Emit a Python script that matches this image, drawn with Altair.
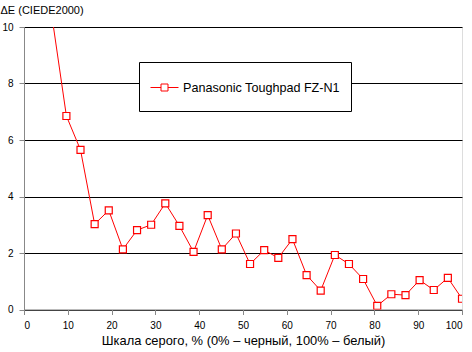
import altair as alt
import pandas as pd

gray_pct = [6.45, 9.68, 12.9, 16.13, 19.35, 22.58, 25.81, 29.03, 32.26, 35.48,
            38.71, 41.94, 45.16, 48.39, 51.61, 54.84, 58.06, 61.29, 64.52, 67.74,
            70.97, 74.19, 77.42, 80.65, 83.87, 87.1, 90.32, 93.55, 96.77, 100.0]
delta_e = [10.3, 6.85, 5.65, 3.02, 3.51, 2.13, 2.81, 3.0, 3.76, 2.96,
           2.04, 3.34, 2.13, 2.69, 1.61, 2.1, 1.83, 2.49, 1.22, 0.67,
           1.93, 1.61, 1.08, 0.13, 0.54, 0.51, 1.04, 0.69, 1.12, 0.38]
series_name = "Panasonic Toughpad FZ-N1"
x_ticks = [0, 10, 20, 30, 40, 50, 60, 70, 80, 90, 100]
y_ticks = [0, 2, 4, 6, 8, 10]

df = pd.DataFrame({"x": gray_pct, "y": delta_e, "s": [series_name] * len(gray_pct)})

FONT = "Liberation Sans"
FS = 12.6

legend_path = ("M-1,0H-0.25M0.25,0H1M-0.25,-0.25H0.25V0.25H-0.25Z"
               "M0,-0.75M0,0.75")

chart = alt.Chart(df).mark_line(
    color="#FF0000", strokeWidth=1, clip=True,
    point=alt.OverlayMarkDef(shape="square", size=49, filled=False, fill="white",
                             fillOpacity=1, stroke="#FF0000", strokeWidth=1.2, clip=True)
).encode(
    x=alt.X("x:Q", scale=alt.Scale(domain=[0, 100], nice=False),
            axis=alt.Axis(values=x_ticks, grid=False, tickSize=5, labelPadding=6,
                          title="Шкала серого, % (0% – черный, 100% – белый)",
                          titlePadding=4, titleFontWeight="normal", titleFontSize=12.9)),
    y=alt.Y("y:Q", scale=alt.Scale(domain=[0, 10], nice=False),
            axis=alt.Axis(values=y_ticks, grid=True, gridColor="black", gridOpacity=1,
                          tickSize=5, labelPadding=6, titleFontWeight="normal",
                          title="ΔE (CIEDE2000)", titleAngle=0, titleAlign="left",
                          titleBaseline="middle", titleX=-24, titleY=-17)),
    color=alt.Color("s:N", scale=alt.Scale(range=["#FF0000"]),
                    legend=alt.Legend(title=None, orient="none", legendX=115, legendY=35,
                                      fillColor="white", strokeColor="black", padding=11,
                                      symbolType=legend_path, symbolSize=784,
                                      symbolStrokeColor="#FF0000", symbolFillColor="white",
                                      symbolStrokeWidth=1, labelOffset=4,
                                      labelFont=FONT, labelFontSize=FS, labelColor="black")),
).properties(
    width=438, height=282.5,
    autosize=alt.AutoSizeParams(type="none"),
    padding={"left": 24, "top": 27, "right": 10, "bottom": 42.5},
).configure_view(
    stroke="black", strokeWidth=1
).configure_axis(
    domainColor="black", tickColor="black", labelColor="black", titleColor="black",
    labelFont=FONT, titleFont=FONT, labelFontSize=FS, titleFontSize=FS,
    titleFontWeight="normal", domainWidth=1, tickWidth=1, gridWidth=1
).configure(background="white")

chart.save("out.html", embed_options={"renderer": "svg", "actions": False})
